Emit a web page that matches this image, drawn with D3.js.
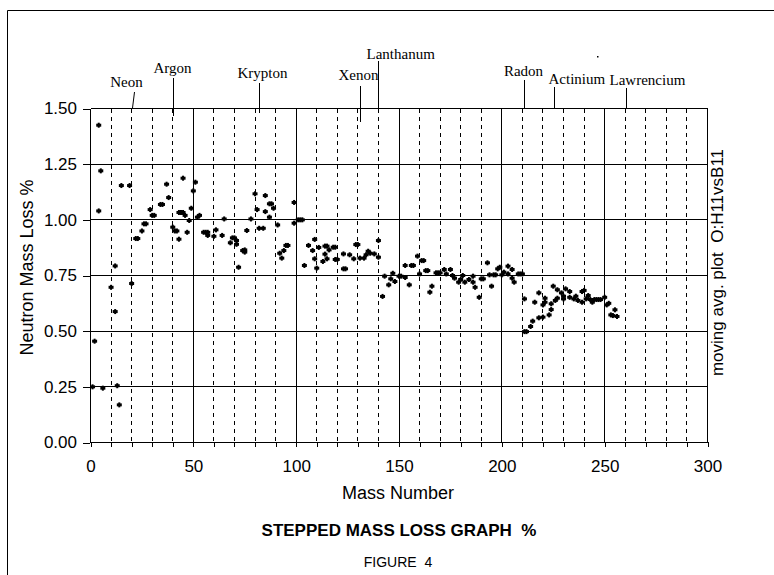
<!DOCTYPE html>
<html>
<head>
<meta charset="utf-8">
<script src="https://cdn.jsdelivr.net/npm/d3@7"></script>
<style>
  body { margin: 0; background: #fff; }
  svg { display: block; }
  text { fill: #000; }
</style>
</head>
<body>
<svg id="chart" width="774" height="575"></svg>
<script>
// values (mass number, neutron mass loss %)
var massNumbers = [1,2,4,4,5,6,10,12,12,13,14,15,19,20,22,23,25,26,27,29,30,31,34,35,37,38,40,41,42,43,43,44,45,45,46,47,48,49,50,51,52,53,55,56,57,57,60,61,64,65,68,69,70,71,71,72,74,75,75,76,78,80,81,82,84,85,85,87,88,87,89,91,92,93,94,95,96,99,99,101,102,103,104,106,108,109,109,110,111,113,114,114,115,115,116,118,119,119,120,123,123,124,126,128,129,130,131,133,134,135,136,138,140,140,142,143,145,146,147,148,150,151,153,153,155,156,157,159,160,161,162,163,164,165,166,168,169,170,172,173,175,176,177,179,180,181,182,184,186,186,187,189,190,191,193,194,195,196,197,198,199,200,201,203,203,205,205,206,208,209,210,211,211,212,214,215,216,218,218,220,220,221,221,223,224,224,225,226,227,227,229,230,230,231,233,233,235,236,237,239,239,240,241,242,243,244,245,246,247,248,250,251,252,253,254,255,256];
var massLoss = [0.25,0.455,1.04,1.425,1.22,0.244,0.697,0.793,0.588,0.255,0.169,1.154,1.154,0.714,0.916,0.916,0.95,0.982,0.982,1.046,1.02,1.02,1.069,1.069,1.16,1.10,0.967,0.95,0.95,0.913,1.033,1.033,1.033,1.187,1.02,0.944,0.997,1.052,1.13,1.169,1.012,1.02,0.944,0.944,0.944,0.93,0.926,0.955,0.93,1.004,0.897,0.919,0.919,0.907,0.89,0.787,0.862,0.865,0.855,0.952,1.004,1.117,1.046,0.962,0.962,1.037,1.109,1.072,1.072,1.012,1.052,0.977,0.85,0.828,0.862,0.885,0.885,0.985,1.078,1.0,1.0,1.0,0.795,0.885,0.862,0.912,0.825,0.783,0.876,0.813,0.846,0.882,0.882,0.825,0.865,0.877,0.877,0.822,0.822,0.847,0.78,0.78,0.843,0.825,0.889,0.889,0.828,0.828,0.843,0.859,0.85,0.847,0.907,0.832,0.656,0.747,0.708,0.735,0.76,0.723,0.747,0.747,0.795,0.741,0.708,0.795,0.795,0.837,0.757,0.817,0.817,0.772,0.772,0.675,0.702,0.762,0.762,0.762,0.777,0.757,0.777,0.75,0.738,0.72,0.732,0.75,0.72,0.732,0.72,0.747,0.697,0.652,0.735,0.735,0.807,0.753,0.702,0.753,0.753,0.78,0.787,0.753,0.765,0.792,0.757,0.777,0.738,0.72,0.757,0.757,0.757,0.645,0.498,0.498,0.521,0.545,0.63,0.56,0.672,0.563,0.618,0.648,0.63,0.573,0.597,0.623,0.702,0.638,0.648,0.686,0.672,0.657,0.645,0.69,0.678,0.652,0.645,0.657,0.638,0.678,0.63,0.683,0.645,0.66,0.642,0.63,0.642,0.642,0.642,0.642,0.652,0.618,0.625,0.573,0.57,0.596,0.566];

var yTickValues = [0, 0.25, 0.5, 0.75, 1.0, 1.25, 1.5];
var xLabelValues = [0, 50, 100, 150, 200, 250, 300];
var xMinorValues = [0,10,20,30,40,50,60,70,80,90,100,110,120,130,140,150,160,170,180,190,200,210,220,230,240,250,260,270,280,290,300];

var elementNames = ["Neon", "Argon", "Krypton", "Xenon", "Lanthanum", "Radon", "Actinium", "Lawrencium"];
var elementMass = [20, 40, 82, 131, 140, 211, 225.5, 260.5];

// where each element label sits relative to its leader line
var labelLayout = [
  {anchor: "middle", dx: -6, base: 87, top: 92, bottom: 108, lean: 2},
  {anchor: "middle", dx: -1, base: 73, top: 78, bottom: 116, lean: 0},
  {anchor: "middle", dx: 3,  base: 78, top: 83, bottom: 113, lean: 0},
  {anchor: "middle", dx: -2, base: 80, top: 86, bottom: 122, lean: 0},
  {anchor: "start",  dx: -12, base: 59, top: 61, bottom: 108, lean: 0},
  {anchor: "middle", dx: -1, base: 76, top: 80, bottom: 108, lean: 0},
  {anchor: "start",  dx: -6, base: 84, top: 87, bottom: 108, lean: 0},
  {anchor: "start",  dx: -17, base: 85, top: 88, bottom: 108, lean: 0}
];

var svg = d3.select("#chart");
var plotLeft = 90.5, plotRight = 707.5, plotTop = 108.5, plotBottom = 442.5;

var x = d3.scaleLinear().domain([0, 300]).range([plotLeft, plotRight]);
var y = d3.scaleLinear().domain([0, 1.5]).range([plotBottom, plotTop]);

// frame round the figure
svg.append("path")
    .attr("d", "M7.5,575V10.5H774")
    .attr("fill", "none")
    .attr("stroke", "#000")
    .attr("stroke-width", 1);

var grid = svg.append("g").attr("shape-rendering", "crispEdges");

// vertical grid: dashed every 10, solid every 50
grid.selectAll(".vgrid")
    .data(xMinorValues)
    .enter().append("line")
    .attr("class", "vgrid")
    .attr("x1", function(d) { return x(d); })
    .attr("x2", function(d) { return x(d); })
    .attr("y1", plotTop)
    .attr("y2", plotBottom)
    .attr("stroke", "#000")
    .attr("stroke-dasharray", function(d) { return d % 50 === 0 ? null : "4,4"; });

// horizontal grid
grid.selectAll(".hgrid")
    .data(yTickValues)
    .enter().append("line")
    .attr("class", "hgrid")
    .attr("x1", plotLeft)
    .attr("x2", plotRight)
    .attr("y1", function(d) { return y(d); })
    .attr("y2", function(d) { return y(d); })
    .attr("stroke", "#000");

// axes
var xAxis = svg.append("g")
    .attr("transform", "translate(0," + (plotBottom - 0.5) + ")")
    .attr("shape-rendering", "crispEdges")
    .call(d3.axisBottom(x).tickValues(xMinorValues).tickSize(5).tickSizeOuter(0).tickFormat(""));

var xLabels = svg.append("g")
    .attr("transform", "translate(0," + (plotBottom - 0.5) + ")")
    .call(d3.axisBottom(x).tickValues(xLabelValues).tickSize(0).tickPadding(18).tickFormat(d3.format("d")));

var yAxis = svg.append("g")
    .attr("transform", "translate(" + (plotLeft - 0.5) + ",0)")
    .attr("shape-rendering", "crispEdges")
    .call(d3.axisLeft(y).tickValues(yTickValues).tickSize(7).tickSizeOuter(0).tickPadding(6).tickFormat(d3.format(".2f")));

[xAxis, xLabels, yAxis].forEach(function(a) {
    a.select(".domain").attr("stroke", "#000");
    a.selectAll(".tick line").attr("stroke", "#000");
    a.selectAll(".tick text")
        .attr("font-family", "'Liberation Sans', Arial, sans-serif")
        .attr("font-size", "17px")
        .attr("fill", "#000");
});
xLabels.select(".domain").remove();

// points: small solid blobs, neighbours merge into dashes
var points = massNumbers.map(function(m, i) { return {m: m, v: massLoss[i]}; });
var pts = svg.append("g").selectAll("g.pt")
    .data(points)
    .enter().append("g")
    .attr("class", "pt")
    .attr("transform", function(d) { return "translate(" + x(d.m) + "," + y(d.v) + ")"; });
pts.append("rect").attr("x", -2.5).attr("y", -1.5).attr("width", 5).attr("height", 3).attr("fill", "#000");
pts.append("rect").attr("x", -1).attr("y", -2.5).attr("width", 2).attr("height", 5).attr("fill", "#000");

// element labels with leader lines
var labels = svg.append("g");
elementNames.forEach(function(name, i) {
    var L = labelLayout[i];
    var lx = Math.round(x(elementMass[i])) + 0.5;
    labels.append("line")
        .attr("x1", lx + L.lean).attr("y1", L.top)
        .attr("x2", lx).attr("y2", L.bottom)
        .attr("stroke", "#000");
    labels.append("text")
        .attr("x", lx + L.dx)
        .attr("y", L.base)
        .attr("text-anchor", L.anchor)
        .attr("font-family", "'Liberation Serif', 'Times New Roman', serif")
        .attr("font-size", "15px")
        .text(name);
});
labels.append("rect").attr("x", 597).attr("y", 56).attr("width", 1.5).attr("height", 1.5).attr("fill", "#000");

// axis titles
svg.append("text")
    .attr("transform", "translate(33," + ((plotTop + plotBottom) / 2 - 8) + ") rotate(-90)")
    .attr("text-anchor", "middle")
    .attr("font-family", "'Liberation Sans', Arial, sans-serif")
    .attr("font-size", "18px")
    .text("Neutron Mass Loss %");

svg.append("text")
    .attr("transform", "translate(723," + ((plotTop + plotBottom) / 2 - 13) + ") rotate(-90)")
    .attr("text-anchor", "middle")
    .attr("font-family", "'Liberation Sans', Arial, sans-serif")
    .attr("font-size", "17px")
    .style("white-space", "pre")
    .text("moving avg. plot  O:H11vsB11");

svg.append("text")
    .attr("x", 398).attr("y", 499)
    .attr("text-anchor", "middle")
    .attr("font-family", "'Liberation Sans', Arial, sans-serif")
    .attr("font-size", "18px")
    .text("Mass Number");

svg.append("text")
    .attr("x", 399).attr("y", 536)
    .attr("text-anchor", "middle")
    .attr("font-family", "'Liberation Sans', Arial, sans-serif")
    .attr("font-size", "17px")
    .attr("font-weight", "bold")
    .style("white-space", "pre")
    .text("STEPPED MASS LOSS GRAPH  %");

svg.append("text")
    .attr("x", 398).attr("y", 567)
    .attr("text-anchor", "middle")
    .attr("font-family", "'Liberation Sans', Arial, sans-serif")
    .attr("font-size", "14px")
    .style("white-space", "pre")
    .text("FIGURE  4");
</script>
</body>
</html>
